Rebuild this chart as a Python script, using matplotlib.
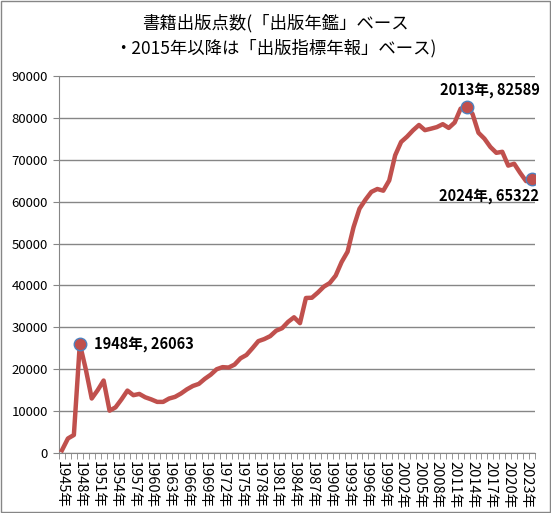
import numpy as np
import matplotlib.pyplot as plt
from matplotlib.patches import Rectangle

plt.rcParams['font.family'] = ['Noto Sans CJK JP', 'DejaVu Sans']

years = list(range(1945, 2025))
counts = [
    658, 3466, 4300, 26063, 20000, 13009, 15000, 17300, 10100, 10900,   # 1945-1954
    12800, 14900, 13800, 14100, 13300, 12800, 12200, 12200, 13000, 13400,  # 1955-1964
    14200, 15200, 16000, 16500, 17700, 18700, 20000, 20500, 20400, 21100,  # 1965-1974
    22600, 23400, 25000, 26700, 27200, 27900, 29200, 29800, 31300, 32400,  # 1975-1984
    31000, 37010, 37064, 38297, 39698, 40576, 42345, 45595, 48053, 53890,  # 1985-1994
    58310, 60462, 62336, 63023, 62621, 65065, 71073, 74259, 75530, 77031,  # 1995-2004
    78304, 77074, 77417, 77800, 78500, 77600, 78900, 82204, 82589, 80954,  # 2005-2014
    76445, 75039, 73057, 71661, 71903, 68608, 69052, 66885, 64905, 65322,  # 2015-2024
]
highlight = [1948, 2013, 2024]
tick_labels = [f"{y}年" for y in years]

title = "書籍出版点数(「出版年鑑」ベース\n・2015年以降は「出版指標年報」ベース)"

fig = plt.figure(figsize=(5.51, 5.13), dpi=100)
ax = fig.add_axes([59/551, 1 - 453/513, 476/551, 377/513])

x = np.arange(len(years))
ax.plot(x, counts, color="#C0504D", lw=3.2, solid_joinstyle="round", zorder=3)

for yr in highlight:
    i = years.index(yr)
    ax.plot(i, counts[i], "o", ms=9, mfc="#C0504D", mec="#4F81BD", mew=1, zorder=4)

def lab(yr, dx, dy, ha):
    i = years.index(yr)
    ax.annotate(f"{yr}年, {counts[i]}", (i, counts[i]), xytext=(dx, dy),
                textcoords="offset points", ha=ha, va="center",
                fontsize=10.5, fontweight="bold", zorder=5)

lab(1948, 10, 0, "left")
lab(2013, 17, 12, "center")
lab(2024, 5, -12, "right")

ax.set_xlim(-0.5, len(years) - 0.5)
ax.set_ylim(0, 90000)
ax.set_yticks(range(0, 90001, 10000))
ax.yaxis.grid(True, color="#868686", lw=1)
ax.set_axisbelow(True)

ax.set_xticks(x[::3])
ax.set_xticklabels(tick_labels[::3], rotation=-90, fontsize=10.5)
ax.set_xticks(np.arange(-0.5, len(years)), minor=True)
ax.tick_params(axis="x", which="major", length=0, pad=6)
ax.tick_params(axis="x", which="minor", length=4, color="#868686", direction="out")
ax.tick_params(axis="y", length=4, color="#868686", labelsize=9.5, pad=4)

for s in ["top", "right"]:
    ax.spines[s].set_visible(False)
for s in ["left", "bottom"]:
    ax.spines[s].set_color("#868686")

fig.text(0.5, 0.972, title, ha="center", va="top", fontsize=12.5, linespacing=1.4)

fig.patches.append(Rectangle((0.001, 0.002), 0.997, 0.996, transform=fig.transFigure,
                             fill=False, ec="#868686", lw=1))

fig.savefig("out.png", dpi=100)
